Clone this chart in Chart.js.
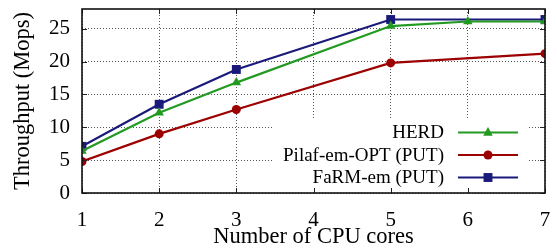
<!DOCTYPE html>
<html>
<head>
<meta charset="utf-8">
<script src="https://cdn.jsdelivr.net/npm/chart.js@4/dist/chart.umd.min.js"></script>
<style>
html,body{margin:0;padding:0;background:#fff;}
#wrap{width:557px;height:251px;}
</style>
</head>
<body>
<div id="wrap"><canvas id="c" width="557" height="251"></canvas></div>
<script>
// ---- data ----
const xTicks = [1, 2, 3, 4, 5, 6, 7];
const yTicks = [0, 5, 10, 15, 20, 25];
const seriesNames = ['HERD', 'Pilaf-em-OPT (PUT)', 'FaRM-em (PUT)'];
const herdX  = [1, 2, 3, 5, 6, 7];
const herdY  = [6.4, 12.2, 16.8, 25.4, 26.1, 26.1];
const pilafX = [1, 2, 3, 5, 7];
const pilafY = [4.8, 9.0, 12.7, 19.8, 21.2];
const farmX  = [1, 2, 3, 5, 7];
const farmY  = [7.1, 13.5, 18.8, 26.4, 26.4];

const colors = ['#229a22', '#9c0000', '#1a1a7a'];
const pStyles = ['triangle', 'circle', 'rect'];
const pRadius = [5.5, 4.5, 6.3];

function pts(xs, ys) { return xs.map((x, i) => ({x: x, y: ys[i]})); }
const datasetsSrc = [pts(herdX, herdY), pts(pilafX, pilafY), pts(farmX, farmY)];

const FONT = "'Liberation Serif', 'Times New Roman', serif";

function drawMarker(ctx, style, r, x, y, color) {
  ctx.save();
  ctx.fillStyle = color;
  ctx.beginPath();
  if (style === 'circle') {
    ctx.arc(x, y, r, 0, Math.PI * 2);
  } else if (style === 'rect') {
    const s = r * Math.SQRT1_2;
    ctx.rect(x - s, y - s, 2 * s, 2 * s);
  } else {
    ctx.moveTo(x, y - r);
    ctx.lineTo(x + r * Math.cos(Math.PI / 6), y + r * 0.5 + 0.5);
    ctx.lineTo(x - r * Math.cos(Math.PI / 6), y + r * 0.5 + 0.5);
    ctx.closePath();
  }
  ctx.fill();
  ctx.restore();
}

const framePlugin = {
  id: 'frame',
  afterDatasetsDraw(chart) {
    const ctx = chart.ctx;
    const a = chart.chartArea;
    const xs = chart.scales.x, ys = chart.scales.y;
    // legend box (inside plot, bottom right)
    const bx0 = 274, bx1 = 528, by0 = 119;
    ctx.save();
    ctx.fillStyle = '#fff';
    ctx.fillRect(bx0, by0, bx1 - bx0, a.bottom - by0);
    ctx.font = "19px " + FONT;
    ctx.textAlign = 'right';
    ctx.textBaseline = 'middle';
    const rows = [132.5, 155, 177.5];
    chart.data.datasets.forEach((ds, i) => {
      const y = rows[i];
      ctx.fillStyle = '#000';
      ctx.fillText(ds.label, 444, y + 1);
      ctx.strokeStyle = ds.borderColor;
      ctx.lineWidth = 2.2;
      ctx.beginPath();
      ctx.moveTo(458, y);
      ctx.lineTo(518, y);
      ctx.stroke();
      drawMarker(ctx, ds.pointStyle, ds.pointRadius, 488, y, ds.borderColor);
    });
    // ticks
    ctx.strokeStyle = '#222';
    ctx.lineWidth = 1;
    const tl = 5;
    xTicks.forEach(v => {
      const px = Math.round(xs.getPixelForValue(v)) + 0.5;
      ctx.beginPath();
      ctx.moveTo(px, a.bottom); ctx.lineTo(px, a.bottom - tl);
      ctx.moveTo(px, a.top); ctx.lineTo(px, a.top + tl);
      ctx.stroke();
    });
    yTicks.forEach(v => {
      const py = Math.round(ys.getPixelForValue(v)) + 0.5;
      ctx.beginPath();
      ctx.moveTo(a.left, py); ctx.lineTo(a.left + tl, py);
      ctx.moveTo(a.right, py); ctx.lineTo(a.right - tl, py);
      ctx.stroke();
    });
    // box
    ctx.lineWidth = 1.6;
    ctx.strokeStyle = '#111';
    ctx.strokeRect(a.left, a.top, a.right - a.left, a.bottom - a.top);
    ctx.restore();
  }
};

new Chart(document.getElementById('c'), {
  type: 'line',
  data: {
    datasets: datasetsSrc.map((d, i) => ({
      label: seriesNames[i],
      data: d,
      borderColor: colors[i],
      backgroundColor: colors[i],
      borderWidth: 2.2,
      pointStyle: pStyles[i],
      pointRadius: pRadius[i],
      pointBorderWidth: 0,
      pointHoverRadius: pRadius[i],
      tension: 0,
      fill: false
    }))
  },
  options: {
    responsive: false,
    animation: false,
    devicePixelRatio: 1,
    layout: {padding: {left: 0, top: 9, right: 12, bottom: 0}},
    plugins: {legend: {display: false}, tooltip: {enabled: false}},
    scales: {
      x: {
        type: 'linear', min: 1, max: 7,
        afterBuildTicks(s) { s.ticks = xTicks.map(v => ({value: v})); },
        afterFit(s) { s.height = 58; s.paddingLeft = 0; s.paddingRight = 0; },
        grid: {color: '#555', lineWidth: 1, drawTicks: false},
        border: {display: false, dash: [1, 2]},
        ticks: {color: '#000', font: {family: FONT, size: 21}, padding: 15, maxRotation: 0},
        title: {display: true, text: 'Number of CPU cores', color: '#000', font: {family: FONT, size: 22.5}, padding: {top: 0, bottom: 0}}
      },
      y: {
        type: 'linear', min: 0, max: 28,
        afterBuildTicks(s) { s.ticks = yTicks.map(v => ({value: v})); },
        afterFit(s) { s.width = 82; s.paddingTop = 0; s.paddingBottom = 0; },
        grid: {color: '#555', lineWidth: 1, drawTicks: false},
        border: {display: false, dash: [1, 2]},
        ticks: {color: '#000', font: {family: FONT, size: 21}, padding: 12},
        title: {display: true, text: 'Throughput (Mops)', color: '#000', font: {family: FONT, size: 22.5}, padding: {top: 10, bottom: 0}}
      }
    }
  },
  plugins: [framePlugin]
});
</script>
</body>
</html>
